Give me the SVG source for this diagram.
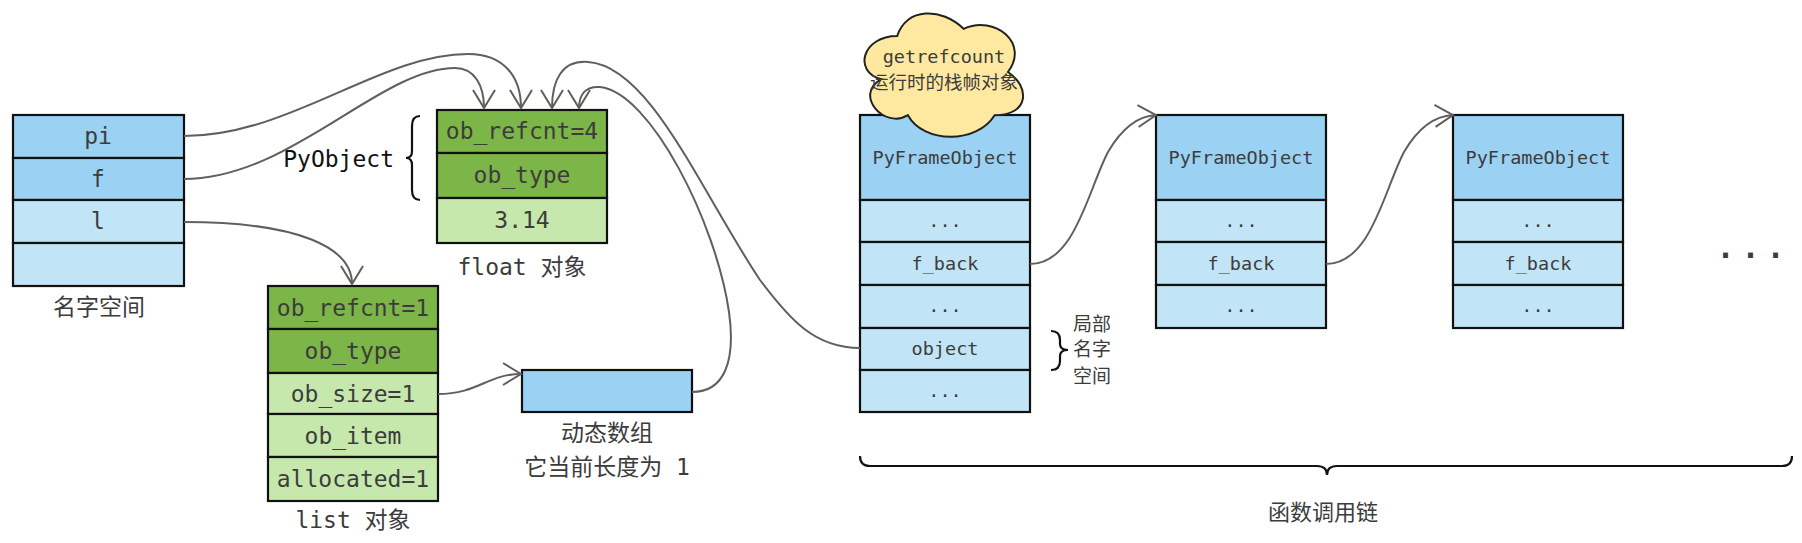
<svg xmlns="http://www.w3.org/2000/svg" width="1802" height="543" viewBox="0 0 1802 543">
<style>
.box{stroke:#111;stroke-width:2.2}
.b1{fill:#9bd1f2}.b2{fill:#c1e4f6}.g1{fill:#7cb548}.g2{fill:#c7e8ac}
.t{font-family:"DejaVu Sans Mono","Noto Sans CJK SC",monospace;fill:#3c3c3c;text-anchor:middle}
.big{font-size:23px}.sm{font-size:18.5px}
.con{fill:none;stroke:#5f5f5f;stroke-width:2}
.br{fill:none;stroke:#111;stroke-width:2.2}
</style>
<defs>
<marker id="arr" markerUnits="userSpaceOnUse" markerWidth="22" markerHeight="26" viewBox="0 0 22 26" refX="20" refY="13" orient="auto">
<path d="M2,2 L20,13 L2,24" fill="none" stroke="#5f5f5f" stroke-width="2"/>
</marker>
</defs>

<g id="namespace">
<rect class="box b1" x="13" y="115" width="171" height="43"/>
<rect class="box b1" x="13" y="158" width="171" height="42"/>
<rect class="box b2" x="13" y="200" width="171" height="43"/>
<rect class="box b2" x="13" y="243" width="171" height="43"/>
<text class="t big" x="98" y="144">pi</text>
<text class="t big" x="98" y="187">f</text>
<text class="t big" x="98" y="229">l</text>
<text class="t big" x="99" y="315">名字空间</text>
</g>

<g id="float-object">
<rect class="box g1" x="437" y="110" width="170" height="43"/>
<rect class="box g1" x="437" y="153" width="170" height="45"/>
<rect class="box g2" x="437" y="198" width="170" height="45"/>
<text class="t big" x="522" y="139">ob_refcnt=4</text>
<text class="t big" x="522" y="183">ob_type</text>
<text class="t big" x="522" y="228">3.14</text>
<text class="t big" x="522" y="275">float 对象</text>
</g>

<g id="pyobject-label">
<text x="394" y="167" style="font-family:'DejaVu Sans Mono',monospace;font-size:23px;fill:#111;text-anchor:end">PyObject</text>
<path class="br" d="M420,116 Q412,116 412,126 L412,151 Q412,158 406,158 Q412,158 412,165 L412,190 Q412,200 420,200"/>
</g>

<g id="list-object">
<rect class="box g1" x="268" y="286" width="170" height="43"/>
<rect class="box g1" x="268" y="329" width="170" height="44"/>
<rect class="box g2" x="268" y="373" width="170" height="41"/>
<rect class="box g2" x="268" y="414" width="170" height="43"/>
<rect class="box g2" x="268" y="457" width="170" height="44"/>
<text class="t big" x="353" y="316">ob_refcnt=1</text>
<text class="t big" x="353" y="359">ob_type</text>
<text class="t big" x="353" y="402">ob_size=1</text>
<text class="t big" x="353" y="444">ob_item</text>
<text class="t big" x="353" y="487">allocated=1</text>
<text class="t big" x="353" y="528">list 对象</text>
</g>

<g id="dynamic-array">
<rect class="box b1" x="522" y="370" width="170" height="42"/>
<text class="t big" x="607" y="441">动态数组</text>
<text class="t big" x="607" y="475">它当前长度为 1</text>
</g>

<g id="frame1">
<rect class="box b1" x="860" y="115" width="170" height="85"/>
<rect class="box b2" x="860" y="200" width="170" height="42"/>
<rect class="box b2" x="860" y="242" width="170" height="43"/>
<rect class="box b2" x="860" y="285" width="170" height="43"/>
<rect class="box b2" x="860" y="328" width="170" height="42"/>
<rect class="box b2" x="860" y="370" width="170" height="42"/>
<text class="t sm" x="945" y="164">PyFrameObject</text>
<text class="t sm" x="945" y="227">...</text>
<text class="t sm" x="945" y="270">f_back</text>
<text class="t sm" x="945" y="312">...</text>
<text class="t sm" x="945" y="355">object</text>
<text class="t sm" x="945" y="397">...</text>
</g>

<g id="cloud">
<path d="M897.25,36 C861.85,36 853,72 881.3,79.2 C853,95 884.9,129.6 907.9,115.2 C923.8,144 976.9,144 994.6,115.2 C1030,115.2 1030,86.4 1007.9,72 C1030,43.2 994.6,14.4 963.6,28.8 C941.5,7.2 906.1,7.2 897.25,36 Z" fill="#ffe9a0" stroke="#222" stroke-width="2"/>
<text class="t" style="font-size:18.5px" x="944" y="63">getrefcount</text>
<text class="t" style="font-size:18.5px" x="944" y="89">运行时的栈帧对象</text>
</g>

<g id="local-namespace">
<path class="br" d="M1051,331 Q1060,331 1060,340 L1060,344 Q1060,350 1068,350 Q1060,350 1060,356 L1060,361 Q1060,370 1051,370"/>
<text class="t" style="font-size:19px" x="1092" y="331">局部</text>
<text class="t" style="font-size:19px" x="1092" y="356">名字</text>
<text class="t" style="font-size:19px" x="1092" y="383">空间</text>
</g>

<g id="frame2">
<rect class="box b1" x="1156" y="115" width="170" height="85"/>
<rect class="box b2" x="1156" y="200" width="170" height="42"/>
<rect class="box b2" x="1156" y="242" width="170" height="43"/>
<rect class="box b2" x="1156" y="285" width="170" height="43"/>
<text class="t sm" x="1241" y="164">PyFrameObject</text>
<text class="t sm" x="1241" y="227">...</text>
<text class="t sm" x="1241" y="270">f_back</text>
<text class="t sm" x="1241" y="312">...</text>
</g>

<g id="frame3">
<rect class="box b1" x="1453" y="115" width="170" height="85"/>
<rect class="box b2" x="1453" y="200" width="170" height="42"/>
<rect class="box b2" x="1453" y="242" width="170" height="43"/>
<rect class="box b2" x="1453" y="285" width="170" height="43"/>
<text class="t sm" x="1538" y="164">PyFrameObject</text>
<text class="t sm" x="1538" y="227">...</text>
<text class="t sm" x="1538" y="270">f_back</text>
<text class="t sm" x="1538" y="312">...</text>
</g>

<g id="more">
<text class="t" style="font-size:30px;font-weight:bold;letter-spacing:7px" x="1754" y="258">...</text>
</g>

<g id="call-chain">
<path class="br" d="M860,456 Q860,466 870,466 L1317,466 Q1327,466 1327,475 Q1327,466 1337,466 L1782,466 Q1792,466 1792,456"/>
<text class="t" style="font-size:22px" x="1323" y="520">函数调用链</text>
</g>

<g id="connectors">
<path class="con" marker-end="url(#arr)" d="M184,136 C290,136 380,54 468,54 C505,54 521,78 521,108"/>
<path class="con" marker-end="url(#arr)" d="M184,179 C290,179 380,68 455,68 C475,68 484,86 484,108"/>
<path class="con" marker-end="url(#arr)" d="M184,222 C300,222 352,248 352,284"/>
<path class="con" marker-end="url(#arr)" d="M438,394 C478,394 488,374 521,374"/>
<path class="con" marker-end="url(#arr)" d="M860,348 C815,348 790,320 760,280 C700,190 650,66 588,62 C562,60 552,80 552,108"/>
<path class="con" marker-end="url(#arr)" d="M692,392 C724,392 736,362 729,312 C716,222 650,92 600,87 C586,86 579,94 579,108"/>
<path class="con" marker-end="url(#arr)" d="M1030,264 C1075,264 1088,190 1108,152 C1122,128 1138,116 1156,115"/>
<path class="con" marker-end="url(#arr)" d="M1326,264 C1371,264 1384,190 1404,152 C1418,128 1434,116 1453,115"/>
</g>
</svg>
